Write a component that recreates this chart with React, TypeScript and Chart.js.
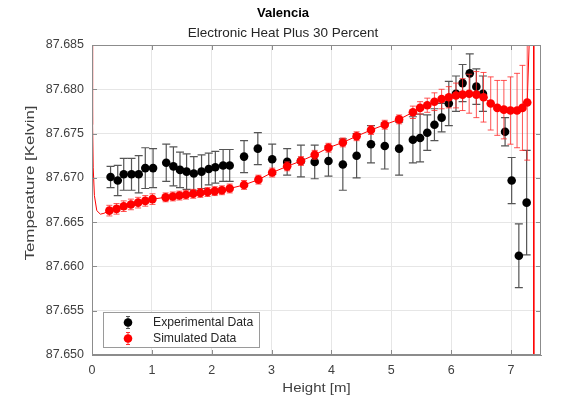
import React, { useEffect, useRef } from 'react';
import { Chart, registerables } from 'chart.js';

Chart.register(...registerables);

const titleText = 'Valencia';
const subtitleText = 'Electronic Heat Plus 30 Percent';
const xTitle = 'Height [m]';
const yTitle = 'Temperature [Kelvin]';
const legendLabels = ['Experimental Data', 'Simulated Data'];

const xTickVals = [0, 1, 2, 3, 4, 5, 6, 7];
const yTickVals = [87.65, 87.655, 87.66, 87.665, 87.67, 87.675, 87.68, 87.685];

const expX = [0.31, 0.43, 0.53, 0.66, 0.78, 0.89, 1.02, 1.24, 1.36, 1.47, 1.58, 1.70, 1.83, 1.95, 2.06, 2.19, 2.30, 2.54, 2.77, 3.01, 3.26, 3.49, 3.72, 3.95, 4.19, 4.42, 4.66, 4.89, 5.13, 5.36, 5.48, 5.60, 5.72, 5.84, 5.96, 6.08, 6.19, 6.31, 6.42, 6.53, 6.90, 7.01, 7.13, 7.26];
const expY = [87.6701, 87.6697, 87.6704, 87.6704, 87.6704, 87.6711, 87.6711, 87.6717, 87.6713, 87.6709, 87.6707, 87.6705, 87.6707, 87.6710, 87.6712, 87.6714, 87.6714, 87.6724, 87.6733, 87.6721, 87.6718, 87.6719, 87.6718, 87.6719, 87.6715, 87.6725, 87.6738, 87.6736, 87.6733, 87.6743, 87.6745, 87.6751, 87.6760, 87.6768, 87.6784, 87.6795, 87.6807, 87.6818, 87.6803, 87.6795, 87.6752, 87.6697, 87.6612, 87.6672];
const expErr = [0.0012, 0.0017, 0.0018, 0.0018, 0.0021, 0.0023, 0.0022, 0.0021, 0.0022, 0.0020, 0.0020, 0.0019, 0.0019, 0.0018, 0.0018, 0.0018, 0.0018, 0.0018, 0.0018, 0.0017, 0.0015, 0.0018, 0.0019, 0.0017, 0.0029, 0.0025, 0.0021, 0.0026, 0.0030, 0.0026, 0.0027, 0.0020, 0.0018, 0.0016, 0.0025, 0.0020, 0.0021, 0.0022, 0.0020, 0.0020, 0.0016, 0.0026, 0.0036, 0.0059];

const simX = [0.29, 0.41, 0.53, 0.65, 0.77, 0.89, 1.01, 1.23, 1.35, 1.46, 1.57, 1.69, 1.81, 1.93, 2.05, 2.17, 2.30, 2.54, 2.78, 3.01, 3.26, 3.49, 3.72, 3.95, 4.19, 4.42, 4.66, 4.89, 5.13, 5.36, 5.48, 5.60, 5.72, 5.84, 5.96, 6.08, 6.19, 6.30, 6.42, 6.54, 6.66, 6.77, 6.88, 6.99, 7.10, 7.19, 7.27];
const simY = [87.6663, 87.6665, 87.6668, 87.6670, 87.6672, 87.6674, 87.6676, 87.6678, 87.6679, 87.6680, 87.6681, 87.6682, 87.6683, 87.6684, 87.6685, 87.6686, 87.6688, 87.6692, 87.6698, 87.6706, 87.6713, 87.6719, 87.6726, 87.6734, 87.6740, 87.6747, 87.6754, 87.6760, 87.6766, 87.6774, 87.6779, 87.6782, 87.6786, 87.6789, 87.6791, 87.6793, 87.6794, 87.6795, 87.6794, 87.6791, 87.6784, 87.6779, 87.6777, 87.6776, 87.6776, 87.6779, 87.6785];
const simErr = [0.0006, 0.0006, 0.0006, 0.0006, 0.0006, 0.0006, 0.0006, 0.0005, 0.0005, 0.0005, 0.0005, 0.0005, 0.0005, 0.0005, 0.0005, 0.0005, 0.0005, 0.0005, 0.0005, 0.0005, 0.0005, 0.0005, 0.0005, 0.0005, 0.0005, 0.0005, 0.0005, 0.0005, 0.0005, 0.0007, 0.0007, 0.0008, 0.0010, 0.0011, 0.0012, 0.0014, 0.0018, 0.0022, 0.0026, 0.0028, 0.0030, 0.0031, 0.0033, 0.0038, 0.0042, 0.0048, 0.0065];

// thin simulated curve outside the marker range
const curveLeadX = [0.0, 0.01, 0.02, 0.04, 0.08, 0.14, 0.2];
const curveLeadY = [87.69, 87.676, 87.6712, 87.668, 87.6663, 87.6659, 87.666];
const curveTailX = [7.375, 7.38];
const curveTailY = [87.7, 87.64];

const FONT = '"Liberation Sans", Arial, Helvetica, sans-serif';

const pts = (xs: number[], ys: number[]) => xs.map((x, i) => ({ x, y: ys[i] }));

const customPlugin = {
  id: 'customDecor',
  beforeDatasetDraw(chart: any, args: any) {
    const ds = chart.data.datasets[args.index];
    if (!ds.errorValues) return;
    const { ctx, chartArea: a } = chart;
    const xs = chart.scales.x;
    const ys = chart.scales.y;
    ctx.save();
    ctx.beginPath();
    ctx.rect(a.left, a.top, a.right - a.left, a.bottom - a.top);
    ctx.clip();
    ctx.strokeStyle = ds.errorColor;
    ctx.lineWidth = ds.errorWidth;
    const cap = ds.capWidth / 2;
    ds.data.forEach((p: any, i: number) => {
      const e = ds.errorValues[i];
      const px = xs.getPixelForValue(p.x);
      const t = ys.getPixelForValue(p.y + e);
      const b = ys.getPixelForValue(p.y - e);
      ctx.beginPath();
      ctx.moveTo(px, t);
      ctx.lineTo(px, b);
      ctx.moveTo(px - cap, t);
      ctx.lineTo(px + cap, t);
      ctx.moveTo(px - cap, b);
      ctx.lineTo(px + cap, b);
      ctx.stroke();
    });
    ctx.restore();
  },
  afterDraw(chart: any) {
    const { ctx, chartArea: a } = chart;
    const xs = chart.scales.x;
    const ys = chart.scales.y;
    ctx.save();
    // box and inward ticks
    ctx.strokeStyle = '#8c8c8c';
    ctx.lineWidth = 1;
    ctx.strokeRect(a.left + 0.5, a.top + 0.5, a.right - a.left - 1, a.bottom - a.top - 1);
    ctx.beginPath();
    xTickVals.forEach((v) => {
      const px = Math.round(xs.getPixelForValue(v)) + 0.5;
      ctx.moveTo(px, a.bottom);
      ctx.lineTo(px, a.bottom - 5);
      ctx.moveTo(px, a.top);
      ctx.lineTo(px, a.top + 5);
    });
    yTickVals.forEach((v) => {
      const py = Math.round(ys.getPixelForValue(v)) + 0.5;
      ctx.moveTo(a.left, py);
      ctx.lineTo(a.left + 5, py);
      ctx.moveTo(a.right, py);
      ctx.lineTo(a.right - 5, py);
    });
    ctx.stroke();

    // titles
    ctx.textAlign = 'center';
    ctx.textBaseline = 'middle';
    ctx.fillStyle = '#000';
    ctx.font = `bold 13px ${FONT}`;
    ctx.fillText(titleText, 283, 13);
    ctx.fillStyle = '#262626';
    ctx.font = `13.5px ${FONT}`;
    ctx.fillText(subtitleText, 283, 33);

    // axis titles
    ctx.fillStyle = '#404040';
    ctx.save();
    ctx.translate((a.left + a.right) / 2, 389);
    ctx.scale(1.2, 1);
    ctx.font = `12.5px ${FONT}`;
    ctx.fillText(xTitle, 0, 0);
    ctx.restore();
    ctx.save();
    ctx.translate(30, 183);
    ctx.rotate(-Math.PI / 2);
    ctx.scale(1.3, 1);
    ctx.font = `13px ${FONT}`;
    ctx.fillText(yTitle, 0, 0);
    ctx.restore();

    // legend
    const lx = 103, ly = 312, lw = 156, lh = 35;
    ctx.fillStyle = '#fff';
    ctx.fillRect(lx, ly, lw, lh);
    ctx.strokeStyle = '#9a9a9a';
    ctx.strokeRect(lx + 0.5, ly + 0.5, lw, lh);
    const items = [
      { label: legendLabels[0], color: '#000', bar: '#555', y: ly + 10.5 },
      { label: legendLabels[1], color: '#ff0000', bar: '#ff3030', y: ly + 26.5 },
    ];
    items.forEach((it) => {
      const mx = 128;
      ctx.strokeStyle = it.bar;
      ctx.beginPath();
      ctx.moveTo(mx, it.y - 6);
      ctx.lineTo(mx, it.y + 6);
      ctx.moveTo(mx - 2, it.y - 6);
      ctx.lineTo(mx + 2, it.y - 6);
      ctx.moveTo(mx - 2, it.y + 6);
      ctx.lineTo(mx + 2, it.y + 6);
      ctx.stroke();
      ctx.fillStyle = it.color;
      ctx.beginPath();
      ctx.arc(mx, it.y, 4.3, 0, Math.PI * 2);
      ctx.fill();
      ctx.fillStyle = '#262626';
      ctx.textAlign = 'left';
      ctx.font = `12.2px ${FONT}`;
      ctx.fillText(it.label, 153, it.y);
    });
    ctx.restore();
  },
};

export default function App() {
  const ref = useRef<HTMLCanvasElement | null>(null);
  useEffect(() => {
    if (!ref.current) return;
    const simCurve = [
      ...pts(curveLeadX, curveLeadY),
      ...pts(simX, simY),
      ...pts(curveTailX, curveTailY),
    ];
    const chart = new Chart(ref.current, {
      type: 'scatter',
      data: {
        datasets: [
          {
            label: legendLabels[0],
            data: pts(expX, expY),
            pointRadius: 4.3,
            pointBackgroundColor: '#000',
            pointBorderColor: '#000',
            pointBorderWidth: 0,
            order: 3,
            errorValues: expErr,
            errorColor: '#555555',
            errorWidth: 1.2,
            capWidth: 8,
          } as any,
          {
            label: 'curve',
            data: simCurve,
            showLine: true,
            borderColor: '#ff0000',
            borderWidth: 1,
            pointRadius: 0,
            order: 2,
          } as any,
          {
            label: legendLabels[1],
            data: pts(simX, simY),
            pointRadius: 4.3,
            pointBackgroundColor: '#ff0000',
            pointBorderColor: '#ff0000',
            pointBorderWidth: 0,
            order: 1,
            errorValues: simErr,
            errorColor: 'rgba(255,40,40,0.8)',
            errorWidth: 1,
            capWidth: 6,
          } as any,
        ],
      },
      options: {
        animation: false,
        responsive: true,
        maintainAspectRatio: false,
        events: [],
        layout: { padding: { top: 45, right: 44, left: 0, bottom: 0 } },
        plugins: {
          legend: { display: false },
          title: { display: false },
          tooltip: { enabled: false },
        },
        scales: {
          x: {
            type: 'linear',
            min: 0,
            max: 7.5,
            afterBuildTicks: (s: any) => {
              s.ticks = xTickVals.map((v) => ({ value: v }));
            },
            afterFit: (s: any) => {
              s.height = 46;
            },
            ticks: {
              padding: 8,
              color: '#404040',
              font: { family: FONT, size: 12.5 },
              callback: (v: any) => String(v),
              maxRotation: 0,
            },
            grid: { color: '#e6e6e6', drawTicks: false },
            border: { color: '#8c8c8c' },
          },
          y: {
            type: 'linear',
            min: 87.65,
            max: 87.685,
            afterBuildTicks: (s: any) => {
              s.ticks = yTickVals.map((v) => ({ value: v }));
            },
            afterFit: (s: any) => {
              s.width = 92;
            },
            ticks: {
              padding: 8,
              color: '#404040',
              font: { family: FONT, size: 12.5 },
              callback: (v: any) => Number(v).toFixed(3),
            },
            grid: { color: '#e6e6e6', drawTicks: false },
            border: { color: '#8c8c8c' },
          },
        },
      },
      plugins: [customPlugin],
    });
    return () => chart.destroy();
  }, []);
  return (
    <div style={{ position: 'fixed', left: 0, top: 0, width: 585, height: 401, background: '#fff' }}>
      <canvas ref={ref} />
    </div>
  );
}
